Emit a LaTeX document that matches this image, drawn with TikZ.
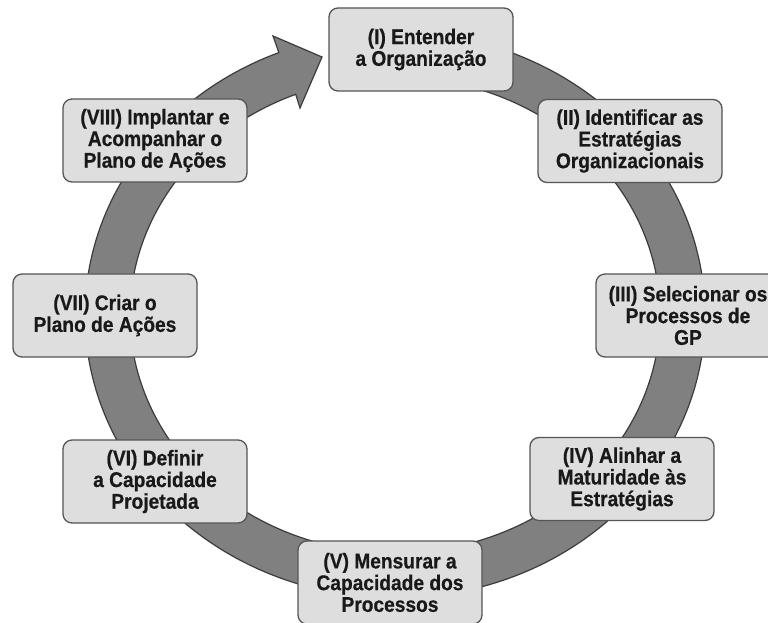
\documentclass[tikz,border=0pt]{standalone}
\usepackage{fontspec}
\setmainfont{Liberation Sans}
\newfontfamily\stagefont{Liberation Sans Bold}[FakeStretch=0.9, FakeBold=0.6]
\usetikzlibrary{calc}
\definecolor{ringgray}{HTML}{808080}
\definecolor{ringedge}{HTML}{3C3C3C}
\definecolor{boxfill}{HTML}{DEDEDE}
\definecolor{boxedge}{HTML}{555555}
\begin{document}
\begin{tikzpicture}[x=1pt,y=1pt,
  stage/.style={draw=boxedge, fill=boxfill, rounded corners=9pt, line width=1.3pt,
    minimum width=184pt, minimum height=83pt, align=center, inner sep=0pt,
    font=\stagefont\fontsize{21.3}{21.7}\selectfont, text=black!90}]
\useasboundingbox (0,0) rectangle (768,622);
\fill[white] (0,0) rectangle (768,622);
\coordinate (c) at (395,307);
\coordinate (barbout) at (273,586);
\coordinate (tip) at (322,565);
\coordinate (barbin) at (300,514);
\fill[ringgray, draw=ringedge, line width=1.2pt, line join=miter]
  ($(c)+(97:310 and 283)$) arc[start angle=97, end angle=-248, x radius=310, y radius=283]
  -- (barbout) -- (tip) -- (barbin)
  -- ($(c)+(-248:265 and 238)$) arc[start angle=-248, end angle=97, x radius=265, y radius=238]
  -- cycle;
\node[stage] (s1) at (421,572.5) {(I) Entender\\a Organização};
\node[stage] (s2) at (630,481) {(II) Identificar as\\Estratégias\\Organizacionais};
\node[stage] (s3) at (688,306.5) {(III) Selecionar os\\Processos de\\GP};
\node[stage] (s4) at (622,143) {(IV) Alinhar a\\Maturidade às\\Estratégias};
\node[stage] (s5) at (390,39.5) {(V) Mensurar a\\Capacidade dos\\Processos};
\node[stage] (s6) at (155,140.5) {(VI) Definir\\a Capacidade\\Projetada};
\node[stage] (s7) at (105,306.5) {(VII) Criar o\\Plano de Ações};
\node[stage] (s8) at (155,481.5) {(VIII) Implantar e\\Acompanhar o\\Plano de Ações};
\end{tikzpicture}
\end{document}
